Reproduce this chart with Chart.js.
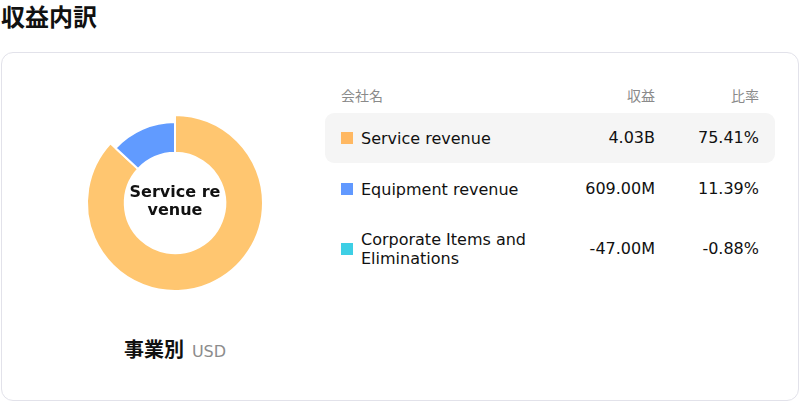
<!DOCTYPE html>
<html>
<head>
<meta charset="utf-8">
<script src="https://cdn.jsdelivr.net/npm/chart.js@4.4.1/dist/chart.umd.min.js"></script>
<style>
  html, body { margin:0; padding:0; background:#fff; width:800px; height:402px; overflow:hidden;
    font-family: "DejaVu Sans", "Noto Sans CJK JP", sans-serif; }
  #title { position:absolute; left:1px; top:2px; font-family:"Noto Sans CJK JP","DejaVu Sans",sans-serif;
    font-weight:700; font-size:24px; line-height:28px; color:#111; }
  #card { position:absolute; left:1px; top:52px; width:796px; height:347px; border:1px solid #e2e2ea;
    border-radius:12px; background:#fff; }
  #chartWrap { position:absolute; left:50px; top:78px; width:250px; height:250px; }
  #center { position:absolute; left:100px; top:183px; width:150px; text-align:center; font-weight:700;
    font-size:16px; line-height:18px; color:#111; }
  #caption { position:absolute; left:0; top:334px; width:350px; text-align:center; }
  #caption .main { font-family:"Noto Sans CJK JP",sans-serif; font-weight:700; font-size:20px; color:#111; }
  #caption .unit { font-size:16px; color:#8c8c8c; margin-left:8px; }
  #table { position:absolute; left:325px; top:84px; width:450px; }
  .hdr { display:flex; height:22px; line-height:22px; font-size:14px; color:#8a8a8a; padding:0 16px;
    font-family:"Noto Sans CJK JP","DejaVu Sans",sans-serif; margin-bottom:7px; }
  .row { display:flex; align-items:center; padding:15px 16px; border-radius:9px; font-size:16px;
    line-height:20px; color:#111; margin-bottom:1px; }
  .row.active { background:#f5f5f5; }
  .c1 { width:200px; display:flex; align-items:center; }
  .c2 { width:114px; text-align:right; }
  .c3 { width:104px; text-align:right; }
  .sq { width:12px; height:12px; flex:none; margin-right:8px; }
  .nm { width:180px; line-height:19px; }
</style>
</head>
<body>
<div id="title">収益内訳</div>
<div id="card"></div>
<div id="chartWrap"><canvas id="c" width="250" height="250"></canvas></div>
<div id="center">Service re<br>venue</div>
<div id="caption"><span class="main">事業別</span><span class="unit">USD</span></div>
<div id="table"></div>
<script>
const categories = ['Service revenue', 'Equipment revenue', 'Corporate Items and Eliminations'];
const revenueMillions = [4030, 609, -47];
const revenueLabels = ['4.03B', '609.00M', '-47.00M'];
const shareLabels = ['75.41%', '11.39%', '-0.88%'];
const sliceColors = ['#FFC670', '#619BFF', '#3ECFE5'];
const markerColors = ['#FFB862', '#6199FF', '#3ECFE5'];
const headers = ['会社名', '収益', '比率'];
const activeIndex = 0;

// table
const tbl = document.getElementById('table');
const hdr = document.createElement('div');
hdr.className = 'hdr';
hdr.innerHTML = '<div class="c1">' + headers[0] + '</div><div class="c2">' + headers[1] +
  '</div><div class="c3">' + headers[2] + '</div>';
tbl.appendChild(hdr);
categories.forEach((name, i) => {
  const r = document.createElement('div');
  r.className = 'row' + (i === activeIndex ? ' active' : '');
  r.innerHTML = '<div class="c1"><div class="sq" style="background:' + markerColors[i] +
    '"></div><div class="nm">' + name + '</div></div><div class="c2">' + revenueLabels[i] +
    '</div><div class="c3">' + shareLabels[i] + '</div>';
  tbl.appendChild(r);
});

const expandActive = {
  id: 'expandActive',
  afterDatasetsUpdate(chart) {
    const el = chart.getDatasetMeta(0).data[activeIndex];
    if (el) el.outerRadius = el.outerRadius + 7;
  }
};

new Chart(document.getElementById('c'), {
  type: 'doughnut',
  data: {
    labels: categories,
    datasets: [{
      data: revenueMillions.map(v => Math.max(v, 0)),
      backgroundColor: sliceColors,
      borderColor: '#ffffff',
      borderWidth: 2,
      hoverOffset: 0
    }]
  },
  options: {
    responsive: false,
    animation: false,
    radius: 81,
    cutout: '62%',
    layout: { padding: 0 },
    events: [],
    plugins: { legend: { display: false }, tooltip: { enabled: false } }
  },
  plugins: [expandActive]
});
</script>
</body>
</html>
